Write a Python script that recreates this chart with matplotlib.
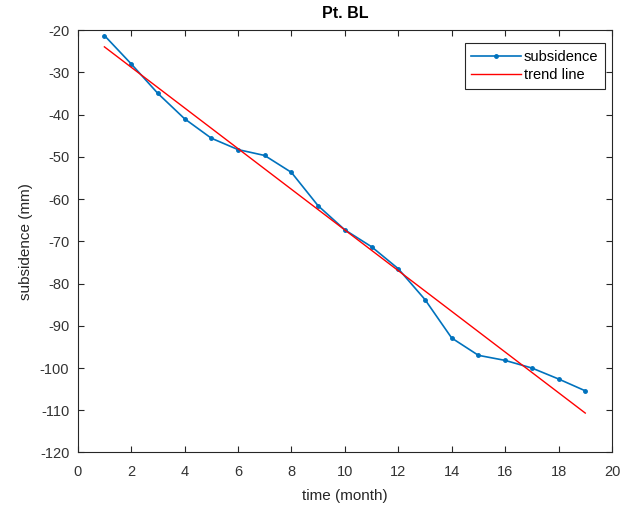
import matplotlib.pyplot as plt
import numpy as np

months = np.arange(1, 20)
subsidence = [-21.3, -28.0, -35.0, -41.0, -45.6, -48.3, -49.7, -53.7, -61.6, -67.3,
              -71.3, -76.5, -83.8, -92.9, -97.0, -98.2, -100.0, -102.6, -105.4]

plt.rcParams['font.family'] = ['Liberation Sans', 'DejaVu Sans']
plt.rcParams['axes.unicode_minus'] = False

# linear trend from the data
coef = np.polyfit(months, subsidence, 1)
trend = np.polyval(coef, months)

fig = plt.figure(figsize=(6.23, 5.07), dpi=100)
ax = fig.add_axes([0.1247, 0.1075, 0.8576, 0.8333])
ax.plot(months, subsidence, color='#0072BD', marker='.', markersize=5, linewidth=1.2, label='subsidence')
ax.plot(months, trend, color='#FF0000', linewidth=1.0, label='trend line')

ax.set_xlim(0, 20)
ax.set_ylim(-120, -20)
ax.set_xticks(np.arange(0, 21, 2))
ax.set_yticks(np.arange(-120, -19, 10))
ax.tick_params(direction='in', length=4, width=0.8, colors='#262626', labelsize=10.5,
               top=True, right=True, labelcolor='#333333')
ax.tick_params(axis='x', pad=9)
ax.tick_params(axis='y', pad=6)
for s in ax.spines.values():
    s.set_color('#262626')
    s.set_linewidth(0.8)

ax.set_xlabel('time (month)', fontsize=11, color='#262626', labelpad=7)
ax.set_ylabel('subsidence (mm)', fontsize=11, color='#262626', labelpad=5)
ax.set_title('Pt. BL', fontsize=11.5, fontweight='bold', color='#000000', pad=9)
leg = ax.legend(loc='upper right', bbox_to_anchor=(0.987, 0.969), borderaxespad=0,
                fontsize=10.5, fancybox=False, edgecolor='#262626', framealpha=1,
                handlelength=3.4, handletextpad=0.2, labelspacing=0.3, borderpad=0.45)
leg.get_frame().set_linewidth(0.8)

fig.savefig('out.png', dpi=100)
